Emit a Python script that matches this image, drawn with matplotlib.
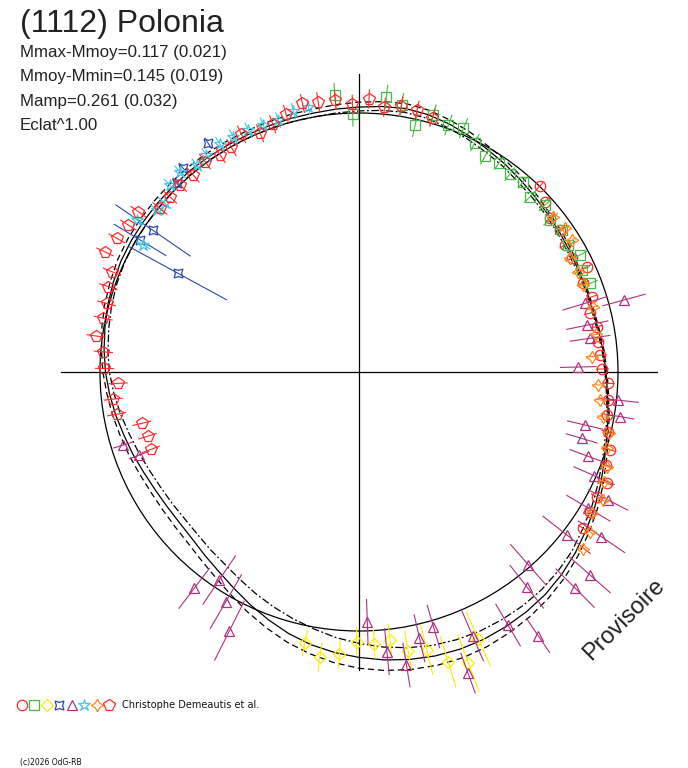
"""
courbe de rotation en coordonnees polaires : (1112) Polonia
"""

import numpy as np
import matplotlib
matplotlib.use("Agg")
import matplotlib.pyplot as plt
from matplotlib.patches import Circle

# textes
title = "(1112) Polonia"
stats = ["Mmax-Mmoy=0.117 (0.021)",
         "Mmoy-Mmin=0.145 (0.019)",
         "Mamp=0.261 (0.032)",
         "Eclat^1.00"]
author = "Christophe Demeautis et al."
credit = "(c)2026 OdG-RB"
stamp = "Provisoire"

# modele (rayon, cercle de reference = 1), tous les 5 degres
lc_ang = list(range(0, 360, 5))
lc_mid = [0.954, 0.946, 0.938, 0.934, 0.934, 0.934,
          0.938, 0.944, 0.950, 0.959, 0.969, 0.981,
          0.992, 1.006, 1.019, 1.029, 1.033, 1.029,
          1.023, 1.019, 1.015, 1.014, 1.012, 1.012,
          1.012, 1.014, 1.015, 1.015, 1.015, 1.015,
          1.015, 1.014, 1.010, 1.004, 0.996, 0.988,
          0.979, 0.967, 0.954, 0.940, 0.929, 0.917,
          0.909, 0.905, 0.905, 0.911, 0.925, 0.942,
          0.965, 0.992, 1.019, 1.046, 1.069, 1.087,
          1.102, 1.116, 1.127, 1.135, 1.139, 1.139,
          1.135, 1.129, 1.120, 1.106, 1.089, 1.069,
          1.050, 1.029, 1.008, 0.990, 0.977, 0.963]
# ecart vers l'interieur (tirets-points) et vers l'exterieur (tirets)
lc_dlo = [0.004, 0.004, 0.004, 0.004, 0.004, 0.006,
          0.008, 0.008, 0.008, 0.010, 0.012, 0.012,
          0.012, 0.014, 0.015, 0.015, 0.015, 0.015,
          0.015, 0.015, 0.015, 0.014, 0.012, 0.012,
          0.012, 0.012, 0.012, 0.014, 0.015, 0.015,
          0.015, 0.015, 0.015, 0.015, 0.015, 0.015,
          0.015, 0.017, 0.019, 0.021, 0.023, 0.023,
          0.023, 0.023, 0.025, 0.027, 0.031, 0.037,
          0.042, 0.048, 0.054, 0.060, 0.062, 0.058,
          0.054, 0.050, 0.046, 0.042, 0.039, 0.035,
          0.031, 0.027, 0.023, 0.019, 0.015, 0.014,
          0.012, 0.010, 0.008, 0.006, 0.004, 0.004]
lc_dhi = [0.004, 0.004, 0.004, 0.004, 0.004, 0.006,
          0.008, 0.008, 0.008, 0.010, 0.012, 0.012,
          0.012, 0.014, 0.015, 0.017, 0.019, 0.019,
          0.019, 0.017, 0.015, 0.015, 0.015, 0.015,
          0.015, 0.015, 0.015, 0.015, 0.015, 0.015,
          0.015, 0.014, 0.012, 0.012, 0.012, 0.010,
          0.010, 0.010, 0.012, 0.014, 0.015, 0.017,
          0.019, 0.021, 0.023, 0.023, 0.023, 0.025,
          0.027, 0.029, 0.031, 0.033, 0.035, 0.039,
          0.042, 0.041, 0.039, 0.037, 0.035, 0.031,
          0.027, 0.023, 0.019, 0.017, 0.015, 0.014,
          0.012, 0.010, 0.008, 0.006, 0.004, 0.004]

# sessions : angle (deg), rayon, erreur
s1_ang = [45.8, 42.5, 38.8, 35.2, 31.7, 28.1, 24.8, 21.6, 17.9, 14.3, 10.8, 7.2, 4.0, 0.7,
          -2.6, -6.4, -9.8, -13.5, -17.2, -20.6, -24.1, -27.7, -31.2, -34.9]
s1_rad = [1.002, 0.974, 0.947, 0.950, 0.934, 0.931, 0.969, 0.931, 0.944, 0.920, 0.934, 0.930,
          0.934, 0.940, 0.964, 0.969, 0.971, 0.987, 1.013, 1.018, 1.051, 1.036, 1.042, 1.056]
s1_err = [0.022] * 24

s2_ang = [94.95, 91.4, 84.3, 80.9, 77.2, 73.9, 70.1, 66.8, 63.2, 59.7, 56.2, 52.7, 49.2,
          45.7, 41.9, 38.5, 35.0, 31.2, 27.9, 24.6, 21.0]
s2_rad = [1.073, 0.995, 1.068, 1.044, 0.978, 1.033, 1.014, 1.024, 0.992, 0.966, 0.973, 0.961,
          0.971, 0.946, 0.965, 0.942, 0.956, 0.945, 0.966, 0.946, 0.955]
s2_err = [0.045, 0.045, 0.045, 0.045, 0.045, 0.04, 0.04, 0.04, 0.035, 0.035, 0.03, 0.03,
          0.03, 0.03, 0.03, 0.03, 0.03, 0.03, 0.03, 0.03, 0.03]

s3_ang = [-101.3, -97.8, -94.0, -90.5, -86.8, -83.4, -80.0, -76.3, -72.9, -69.4, -65.9]
s3_rad = [1.066, 1.112, 1.092, 1.041, 1.052, 1.042, 1.093, 1.105, 1.171, 1.201, 1.129]
s3_err = [0.050, 0.054, 0.054, 0.054, 0.054, 0.062, 0.077, 0.097, 0.100, 0.116, 0.112]

s4_ang = [123.4, 130.8, 134.0, 145.5, 148.9, 151.4]
s4_rad = [1.058, 1.040, 1.013, 0.965, 0.987, 0.795]
s4_err = [0.023, 0.023, 0.023, 0.174, 0.116, 0.212]

s5_ang = [15.2, 16.9, 11.6, 8.3, 1.3, -6.2, -9.7, -13.2, -16.6, -20.2, -23.8, -27.2, -30.7,
          -34.2, -38.1, -41.3, -48.7, -45.0, -52.0, -59.5, -55.8, -66.7, -70.1, -73.7, -77.2,
          -80.8, -84.3, -88.1, -116.6, -120.1, -123.9, -127.3, -159.3, -162.8]
s5_rad = [1.060, 0.912, 0.900, 0.901, 0.847, 1.007, 1.022, 0.896, 0.897, 0.941, 0.992, 1.082,
          1.030, 1.132, 1.019, 1.187, 0.991, 1.180, 1.052, 1.134, 1.232, 1.110, 1.237, 1.024,
          1.054, 1.146, 1.085, 0.964, 1.117, 1.025, 0.968, 1.050, 0.907, 0.953]
s5_err = [0.085, 0.089, 0.081, 0.077, 0.069, 0.077, 0.054, 0.069, 0.062, 0.073, 0.085, 0.085,
          0.097, 0.108, 0.116, 0.104, 0.104, 0.104, 0.104, 0.093, 0.077, 0.104, 0.081, 0.085,
          0.093, 0.085, 0.089, 0.085, 0.127, 0.120, 0.112, 0.097, 0.039, 0.039]

s6_ang = [100.8, 104.1, 107.8, 111.2, 114.6, 118.1, 121.4, 125.1, 128.1, 131.8, 135.3, 139.0,
          141.3, 145.6, 149.5]
s6_rad = [1.043, 1.039, 1.022, 1.023, 1.027, 1.030, 1.031, 1.024, 1.015, 1.037, 1.027, 0.993,
          1.001, 1.040, 0.966]
s6_err = [0.03] * 15

s7_ang = [38.6, 34.9, 31.8, 28.3, 24.6, 21.2, 15.5, 9.0, 3.8, -3.1, -6.6, -10.4, -13.8, -17.1,
          -20.9, -24.1, -27.7, -31.3, -34.7, -38.2]
s7_rad = [0.960, 0.970, 0.966, 0.925, 0.931, 0.929, 0.938, 0.927, 0.900, 0.925, 0.937, 0.959,
          0.994, 1.001, 1.027, 1.036, 1.062, 1.051, 1.084, 1.102]
s7_err = [0.02] * 20

s8_ang = [73.9, 77.5, 81.0, 84.5, 87.9, 91.4, 95.0, 98.6, 101.9, 105.8, 109.2, 112.5, 116.3,
          119.6, 122.6, 126.2, 130.1, 133.7, 137.2, 140.6, 144.0, 147.5, 151.1, 154.7, 157.9,
          161.2, 164.8, 168.1, 172.2, 175.5, 179.2, 182.7, 186.3, 189.9, 193.3, 196.9, 200.4]
s8_rad = [1.022, 1.036, 1.041, 1.027, 1.055, 1.034, 1.054, 1.055, 1.060, 1.035, 1.013, 0.998,
          1.024, 0.997, 0.995, 1.007, 0.994, 1.000, 0.995, 0.995, 1.053, 1.056, 1.068, 1.085,
          1.031, 1.022, 1.010, 1.009, 1.025, 0.990, 0.983, 0.931, 0.954, 0.950, 0.862, 0.853,
          0.858]
s8_err = [0.035] * 37

sessions = [
    (s1_ang, s1_rad, s1_err, 'o', '#ff2a2a', 7.5),
    (s2_ang, s2_rad, s2_err, 's', '#44bb44', 6.5),
    (s3_ang, s3_rad, s3_err, 'D', '#ffee00', 6),
    (s4_ang, s4_rad, s4_err, (4, 1, 45), '#2b4aa8', 9),
    (s5_ang, s5_rad, s5_err, '^', '#b0307f', 7.5),
    (s6_ang, s6_rad, s6_err, '*', '#44c8e4', 9),
    (s7_ang, s7_rad, s7_err, (4, 1, 0), '#ff8a1a', 9),
    (s8_ang, s8_rad, s8_err, 'p', '#ff2a2a', 8.5),
]

# mise en page : centre en pixels et pixels par unite de rayon
W, H = 688, 768
CX, CY = 359, 372
SC = 259.0
L = 1.15


def px(x, y):
    # pixel -> coordonnees des donnees
    return (x - CX) / SC, (CY - y) / SC


def closed(ang, rad):
    t = np.radians(np.append(ang, ang[0]))
    r = np.append(rad, rad[0])
    return r * np.cos(t), r * np.sin(t)


def radial_bars(ang, rad, err):
    t = np.radians(ang)
    r0 = np.array(rad) - np.array(err)
    r1 = np.array(rad) + np.array(err)
    nan = np.full(len(t), np.nan)
    xs = np.column_stack([r0 * np.cos(t), r1 * np.cos(t), nan]).ravel()
    ys = np.column_stack([r0 * np.sin(t), r1 * np.sin(t), nan]).ravel()
    return xs, ys


fig = plt.figure(figsize=(W / 100, H / 100), dpi=100)
ax = fig.add_axes([0, 0, 1, 1])
ax.set_xlim(-CX / SC, (W - CX) / SC)
ax.set_ylim((CY - H) / SC, CY / SC)
ax.axis('off')

# axes
ax.plot([-L, L], [0, 0], color='black', lw=0.9)
ax.plot([0, 0], [-L, L], color='black', lw=0.9)

# cercle de reference + modele
mid = np.array(lc_mid)
ax.add_patch(Circle((0, 0), 1.0, fill=False, color='black', lw=0.9))
x, y = closed(lc_ang, mid)
ax.plot(x, y, color='black', lw=0.9)
x, y = closed(lc_ang, mid - np.array(lc_dlo))
ax.plot(x, y, color='black', lw=0.9, ls=(0, (6, 2, 1.5, 2)))
x, y = closed(lc_ang, mid + np.array(lc_dhi))
ax.plot(x, y, color='black', lw=0.9, ls=(0, (5, 3)))

# points de mesure
for ang, rad, err, mk, col, ms in sessions:
    xs, ys = radial_bars(ang, rad, err)
    ax.plot(xs, ys, color=col, lw=0.8)
    t = np.radians(ang)
    ax.plot(np.array(rad) * np.cos(t), np.array(rad) * np.sin(t), ls='none', marker=mk,
            ms=ms, mfc='none', mec=col, mew=0.9)

# legende des sessions
for i, (ang, rad, err, mk, col, ms) in enumerate(sessions):
    lx, ly = px(22 + 12.5 * i, 704.5)
    ax.plot([lx], [ly], ls='none', marker=mk, ms=ms, mfc='none', mec=col, mew=0.9,
            clip_on=False)

fig.text(122 / W, 1 - 704.5 / H, author, fontsize=7, va='center', ha='left', color='#111111')
fig.text(20 / W, 1 - 763 / H, credit, fontsize=5.5, va='center', ha='left', color='#111111')

# titre et statistiques
fig.text(20 / W, 1 - 32 / H, title, fontsize=23, family='Liberation Sans',
         va='baseline', color='#222222')
for k, s in enumerate(stats):
    fig.text(20 / W, 1 - (56.7 + 24.5 * k) / H, s, fontsize=12.2, family='Liberation Sans',
             va='baseline', color='#222222')

sx, sy = px(624, 620)
ax.text(sx, sy, stamp, fontsize=17, family='Liberation Sans', rotation=45,
        rotation_mode='anchor', ha='center', va='center', color='#222222')

fig.savefig('out.png', dpi=100)
